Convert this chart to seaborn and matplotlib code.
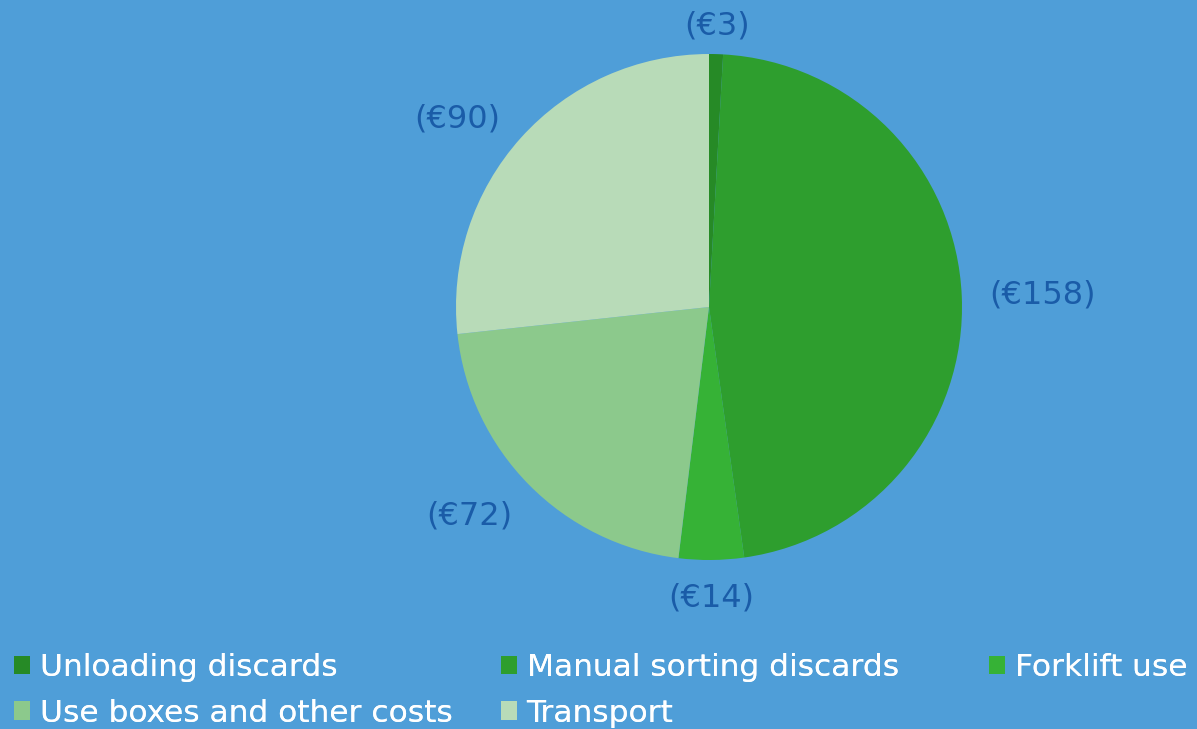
import matplotlib
matplotlib.use("Agg")
import matplotlib.pyplot as plt
from matplotlib.patches import Patch
import seaborn as sns

# Data
categories = ["Unloading discards", "Manual sorting discards", "Forklift use",
              "Use boxes and other costs", "Transport"]
costs = [3, 158, 14, 72, 90]
labels = ["(€3)", "(€158)", "(€14)", "(€72)", "(€90)"]
colors = ["#268A26", "#2E9E2E", "#36B236", "#8CC98C", "#B8DBB8"]

bg = "#4F9ED8"
label_color = "#1A5CA8"

sns.set_theme(style="white")
plt.rcParams["font.family"] = ["DejaVu Sans"]

fig = plt.figure(figsize=(11.97, 7.29), dpi=100, facecolor=bg)
W, H = 1197, 729
cx, cy, r = 709, 307, 253
ax = fig.add_axes([(cx - r) / W, (H - cy - r) / H, 2 * r / W, 2 * r / H])
ax.set_facecolor(bg)

wedges, texts = ax.pie(costs, labels=labels, colors=colors, startangle=90,
                       counterclock=False, labeldistance=1.11,
                       wedgeprops=dict(linewidth=0),
                       textprops=dict(color=label_color, fontsize=23))
for t in texts:
    x, y = t.get_position()
    if abs(x) < 0.15:
        t.set_ha("center")
    if y < 0:
        # labels under the pie hang from their top edge
        t.set_va("top")
        t.set_position((x * 1.09 / 1.11, y * 1.09 / 1.11))
ax.set_xlim(-1, 1)
ax.set_ylim(-1, 1)
ax.set_aspect("equal")
ax.axis("off")

# Legend laid out in equal-width columns
handles = [Patch(facecolor=c, edgecolor="none") for c in colors]
columns = [([0, 3], 14), ([1, 4], 501), ([2], 989)]
for idx, xpx in columns:
    leg = fig.legend([handles[i] for i in idx], [categories[i] for i in idx],
                     loc="upper left", bbox_to_anchor=(xpx / W, (H - 653) / H),
                     frameon=False, fontsize=22.5, labelcolor="white",
                     handlelength=0.52, handleheight=0.52, handletextpad=0.3,
                     labelspacing=0.53, borderpad=0, borderaxespad=0)
    fig.add_artist(leg)

fig.savefig("out.png", dpi=100, facecolor=bg)
